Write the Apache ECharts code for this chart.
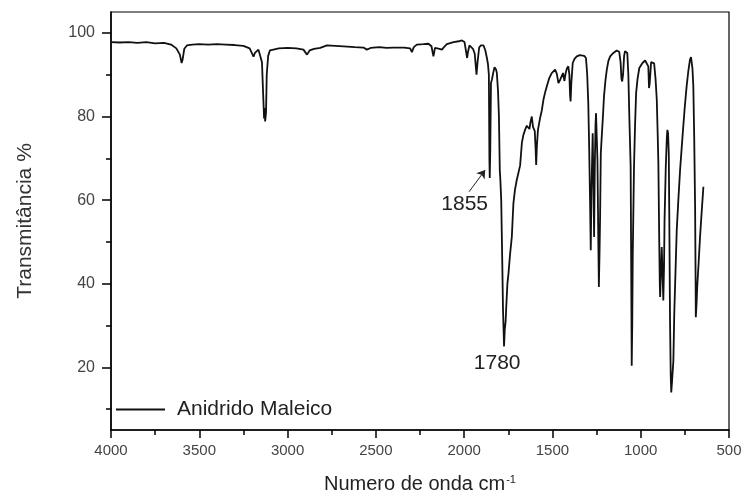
<!DOCTYPE html>
<html>
<head>
<meta charset="UTF-8">
<title>Anidrido Maleico - FTIR</title>
<script src="https://cdn.jsdelivr.net/npm/echarts@6/dist/echarts.min.js"></script>
<style>
  html, body { margin:0; padding:0; background:#fff; }
  #chart { width:747px; height:495px; }
</style>
</head>
<body>
<div id="chart"></div>
<script>
var waveNumbers = [
  4000,3950,3900,3850,3800,3750,3700,3660,3630,3610,3600,3595,3585,3570,3540,3500,3450,3400,3350,3300,
  3250,3215,3200,3193,3185,3165,3155,3145,3138,3133,3130,3127,3122,3118,3110,3100,3080,3050,3000,2950,
  2910,2890,2875,2850,2815,2777,2730,2683,2620,2570,2551,2530,2480,2440,2400,2340,2306,2296,2285,2268,
  2230,2202,2185,2174,2165,2155,2140,2126,2110,2098,2060,2030,2013,1998,1990,1983,1978,1970,1960,1950,
  1940,1930,1924,1915,1905,1890,1880,1871,1865,1860,1857,1855,1852,1848,1843,1835,1828,1820,1815,1808,
  1803,1798,1795,1790,1784,1780,1776,1774,1770,1765,1762,1755,1749,1740,1730,1721,1712,1702,1690,1683,
  1673,1665,1655,1645,1636,1630,1625,1617,1610,1600,1595,1592,1588,1582,1570,1560,1551,1540,1532,1518,
  1504,1495,1485,1475,1466,1456,1447,1440,1432,1425,1418,1410,1404,1400,1397,1393,1385,1375,1362,1345,
  1334,1320,1310,1303,1297,1292,1287,1283,1279,1275,1272,1268,1264,1260,1256,1253,1249,1245,1240,1237,
  1233,1230,1226,1221,1214,1208,1200,1192,1183,1173,1155,1136,1122,1114,1109,1105,1100,1094,1089,1080,
  1076,1070,1064,1057,1054,1051,1048,1045,1038,1032,1026,1018,1008,990,975,965,957,953,949,941,
  932,924,916,909,904,900,895,892,890,886,881,876,872,868,865,858,852,849,845,841,
  838,834,830,827,822,815,810,805,796,787,777,768,759,750,740,730,721,715,712,707,
  702,697,692,689,688,684,680,672,664,655,645
];
// transmitancia (%)
var transmittance = [
  97.8,97.7,97.8,97.6,97.8,97.5,97.6,97.2,96.3,94.8,92.8,93.5,96.2,97.0,97.2,97.3,97.2,97.3,97.2,97.1,
  96.9,96.3,95.0,94.3,95.2,96.0,95.6,93.0,85.0,79.5,82.0,78.8,81.0,90.0,94.5,95.8,96.0,96.3,96.4,96.3,
  96.0,94.8,95.8,96.2,96.4,97.0,96.9,96.8,96.6,96.5,96.0,96.4,96.6,96.4,96.5,96.5,96.3,95.4,96.6,97.2,
  97.3,97.4,96.8,94.4,96.4,96.6,96.2,96.0,96.8,97.3,97.8,98.0,98.2,97.8,97.6,94.0,95.5,97.0,96.8,96.2,
  95.0,90.0,93.0,96.5,97.0,97.0,95.8,94.0,92.5,90.0,70.0,65.3,72.0,88.0,88.8,90.5,91.8,91.3,90.5,86.0,
  80.0,67.0,65.0,60.0,45.0,34.0,28.0,25.0,29.0,31.0,34.0,40.0,42.4,47.0,51.2,59.2,62.5,64.8,67.0,68.3,
  73.7,75.5,76.8,77.8,78.0,77.0,78.5,80.0,77.5,76.5,72.0,68.4,73.0,76.8,79.6,81.5,84.0,86.0,87.2,89.2,
  90.4,90.6,91.2,90.2,88.0,88.8,89.2,90.4,88.5,90.4,91.5,92.0,90.0,85.0,83.6,88.0,92.8,93.8,94.4,94.7,
  94.8,94.5,94.0,90.0,83.3,72.8,60.0,48.0,62.0,70.0,76.0,65.0,51.2,68.0,78.0,80.8,75.0,69.6,50.0,39.2,
  48.0,56.0,71.2,75.0,80.0,84.8,88.5,91.2,93.3,94.4,95.2,95.8,95.5,93.0,89.0,88.4,90.0,94.5,95.6,95.3,
  95.2,90.0,79.2,68.0,45.0,20.4,30.0,47.2,68.0,78.0,85.6,89.0,91.6,92.8,93.4,93.2,92.0,86.8,88.0,93.0,
  93.2,92.7,89.0,84.0,76.0,68.8,50.0,40.0,36.8,42.0,48.8,42.0,36.0,44.0,55.2,68.0,75.0,76.8,76.0,71.0,
  55.0,31.2,18.0,14.0,17.0,21.6,32.8,40.0,52.8,60.0,67.2,72.5,77.6,82.5,87.2,91.0,93.6,94.2,94.0,91.5,
  87.2,75.0,58.4,40.0,32.0,35.0,39.2,45.0,51.2,57.0,63.2
];
var xTicks = [500, 4000, 500];          // min, max, passo
var yMajorTicks = [20, 40, 60, 80, 100];
var yMinorTicks = [10, 30, 50, 70, 90];
var peakLabels = [
  { name: '1855', pos: [1997, 58.9] },
  { name: '1780', pos: [1813, 20.9] }
];
var arrowFrom = [1972, 62.0];
var arrowTo = [1881, 67.2];

var spectrum = [];
for (var i = 0; i < waveNumbers.length; i++) {
  spectrum.push([waveNumbers[i], transmittance[i]]);
}

var font = "'Liberation Sans', Arial, sans-serif";
var chart = echarts.init(document.getElementById('chart'), null, { renderer: 'canvas' });

var option = {
  animation: false,
  backgroundColor: '#fff',
  textStyle: { fontFamily: font },
  grid: {
    left: 111, right: 18, top: 12, bottom: 65,
    containLabel: false,
    outerBoundsMode: 'none',
    show: true, borderColor: '#000', borderWidth: 1.2, backgroundColor: 'transparent'
  },
  legend: {
    data: ['Anidrido Maleico'],
    left: 116, top: 399,
    padding: 0,
    icon: 'rect',
    itemWidth: 49, itemHeight: 2,
    textStyle: { fontSize: 21, color: '#222', fontFamily: font, padding: [0, 0, 0, 7] }
  },
  xAxis: {
    type: 'value',
    min: xTicks[0], max: xTicks[1], interval: xTicks[2],
    inverse: true,
    name: '{a|Numero de onda cm}{s|-1}',
    nameLocation: 'middle',
    nameGap: 44,
    nameTextStyle: {
      rich: {
        a: { fontSize: 20, color: '#222', fontFamily: font },
        s: { fontSize: 11, color: '#222', fontFamily: font, verticalAlign: 'top', padding: [0, 0, 10, 1] }
      }
    },
    axisLine: { show: true, lineStyle: { color: '#000', width: 1.5 } },
    axisTick: { show: true, inside: false, length: 8, lineStyle: { color: '#000', width: 1.5 } },
    minorTick: { show: true, splitNumber: 2, length: 5, lineStyle: { color: '#000', width: 1.5 } },
    axisLabel: { fontSize: 15, color: '#444', margin: 13, fontFamily: font,
      formatter: function (v) { return String(v); } },
    splitLine: { show: false },
    minorSplitLine: { show: false }
  },
  yAxis: [{
    type: 'value',
    min: 5, max: 105,
    position: 'left',
    name: 'Transmitância %',
    nameLocation: 'middle',
    nameGap: 75,
    nameTextStyle: { fontSize: 21, color: '#333', fontFamily: font },
    axisLine: { show: true, lineStyle: { color: '#000', width: 1.5 } },
    axisTick: { show: true, length: 9, customValues: yMajorTicks, lineStyle: { color: '#000', width: 1.5 } },
    axisLabel: { fontSize: 16, color: '#444', margin: 16, customValues: yMajorTicks, fontFamily: font },
    splitLine: { show: false }
  }, {
    type: 'value',
    min: 5, max: 105,
    position: 'left',
    axisLine: { show: false },
    axisTick: { show: true, length: 5, customValues: yMinorTicks, lineStyle: { color: '#000', width: 1.5 } },
    axisLabel: { show: false },
    splitLine: { show: false }
  }],
  series: [{
    name: 'Anidrido Maleico',
    type: 'line',
    data: spectrum,
    yAxisIndex: 0,
    symbol: 'none',
    smooth: false,
    lineStyle: { color: '#111', width: 1.8 },
    itemStyle: { color: '#111' },
    silent: true,
    markLine: {
      silent: true,
      symbol: ['none', 'arrow'],
      symbolSize: 8,
      label: { show: false },
      lineStyle: { color: '#222', width: 1, type: 'solid' },
      data: [[{ coord: arrowFrom }, { coord: arrowTo }]]
    },
    markPoint: {
      silent: true,
      symbol: 'rect',
      symbolSize: [1, 1],
      itemStyle: { color: 'rgba(0,0,0,0)' },
      label: { show: true, position: 'inside', fontSize: 21, color: '#222', fontFamily: font,
        formatter: function (p) { return p.name; } },
      data: peakLabels.map(function (p) { return { name: p.name, coord: p.pos }; })
    }
  }]
};
chart.setOption(option);
</script>
</body>
</html>
